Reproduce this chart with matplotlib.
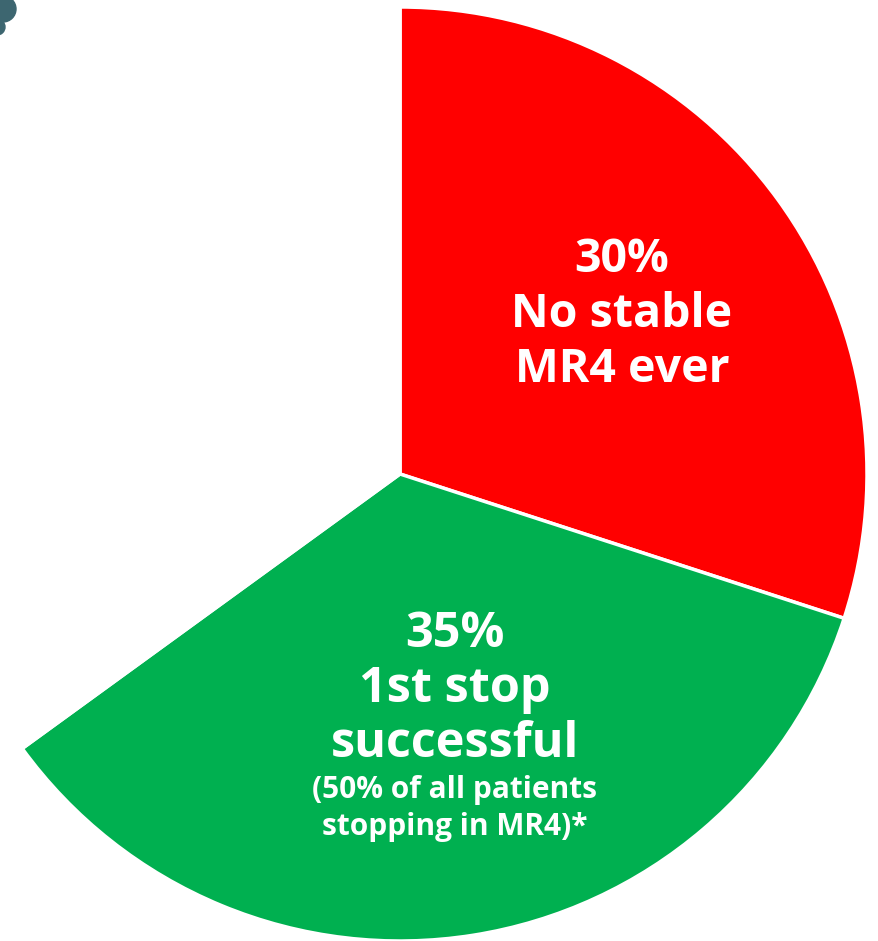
import matplotlib.pyplot as plt
from matplotlib.patches import Circle

# Pie shares (third slice is the unlabelled white remainder)
shares = [30, 35, 35]
colors = ['#FF0000', '#00B050', '#FFFFFF']
red_lines = ['30%', 'No stable', 'MR4 ever']
green_lines = ['35%', '1st stop', 'successful']
green_notes = ['(50% of all patients', 'stopping in MR4)*']

W, H = 879, 941
fig = plt.figure(figsize=(W / 100, H / 100), dpi=100)
ax = fig.add_axes([0, 0, 1, 1])

cx, cy, r = 400, H - 474, 467
ax.pie(shares, colors=colors, startangle=90, counterclock=False,
       center=(cx, cy), radius=r, frame=True,
       wedgeprops=dict(edgecolor='white', linewidth=2.5))
ax.set_xlim(0, W)
ax.set_ylim(0, H)
ax.set_aspect('equal')
ax.axis('off')

font = dict(family='Open Sans', weight='bold', color='white', ha='center', va='baseline')

# red slice label
for i, line in enumerate(red_lines):
    ax.text(622, H - 272 - i * 55, line, fontsize=33.5, **font)

# green slice label
for i, line in enumerate(green_lines):
    ax.text(455, H - 647 - i * 55, line, fontsize=35, **font)
for i, line in enumerate(green_notes):
    ax.text(455, H - 798 - i * 37, line, fontsize=21.5, **font)

# bit of a clipped icon in the top-left corner
ax.add_patch(Circle((3, H - 9), 13, color='#3D6670', clip_on=True))
ax.add_patch(Circle((-3, H - 27), 8, color='#3D6670', clip_on=True))

fig.savefig('out.png', dpi=100)
